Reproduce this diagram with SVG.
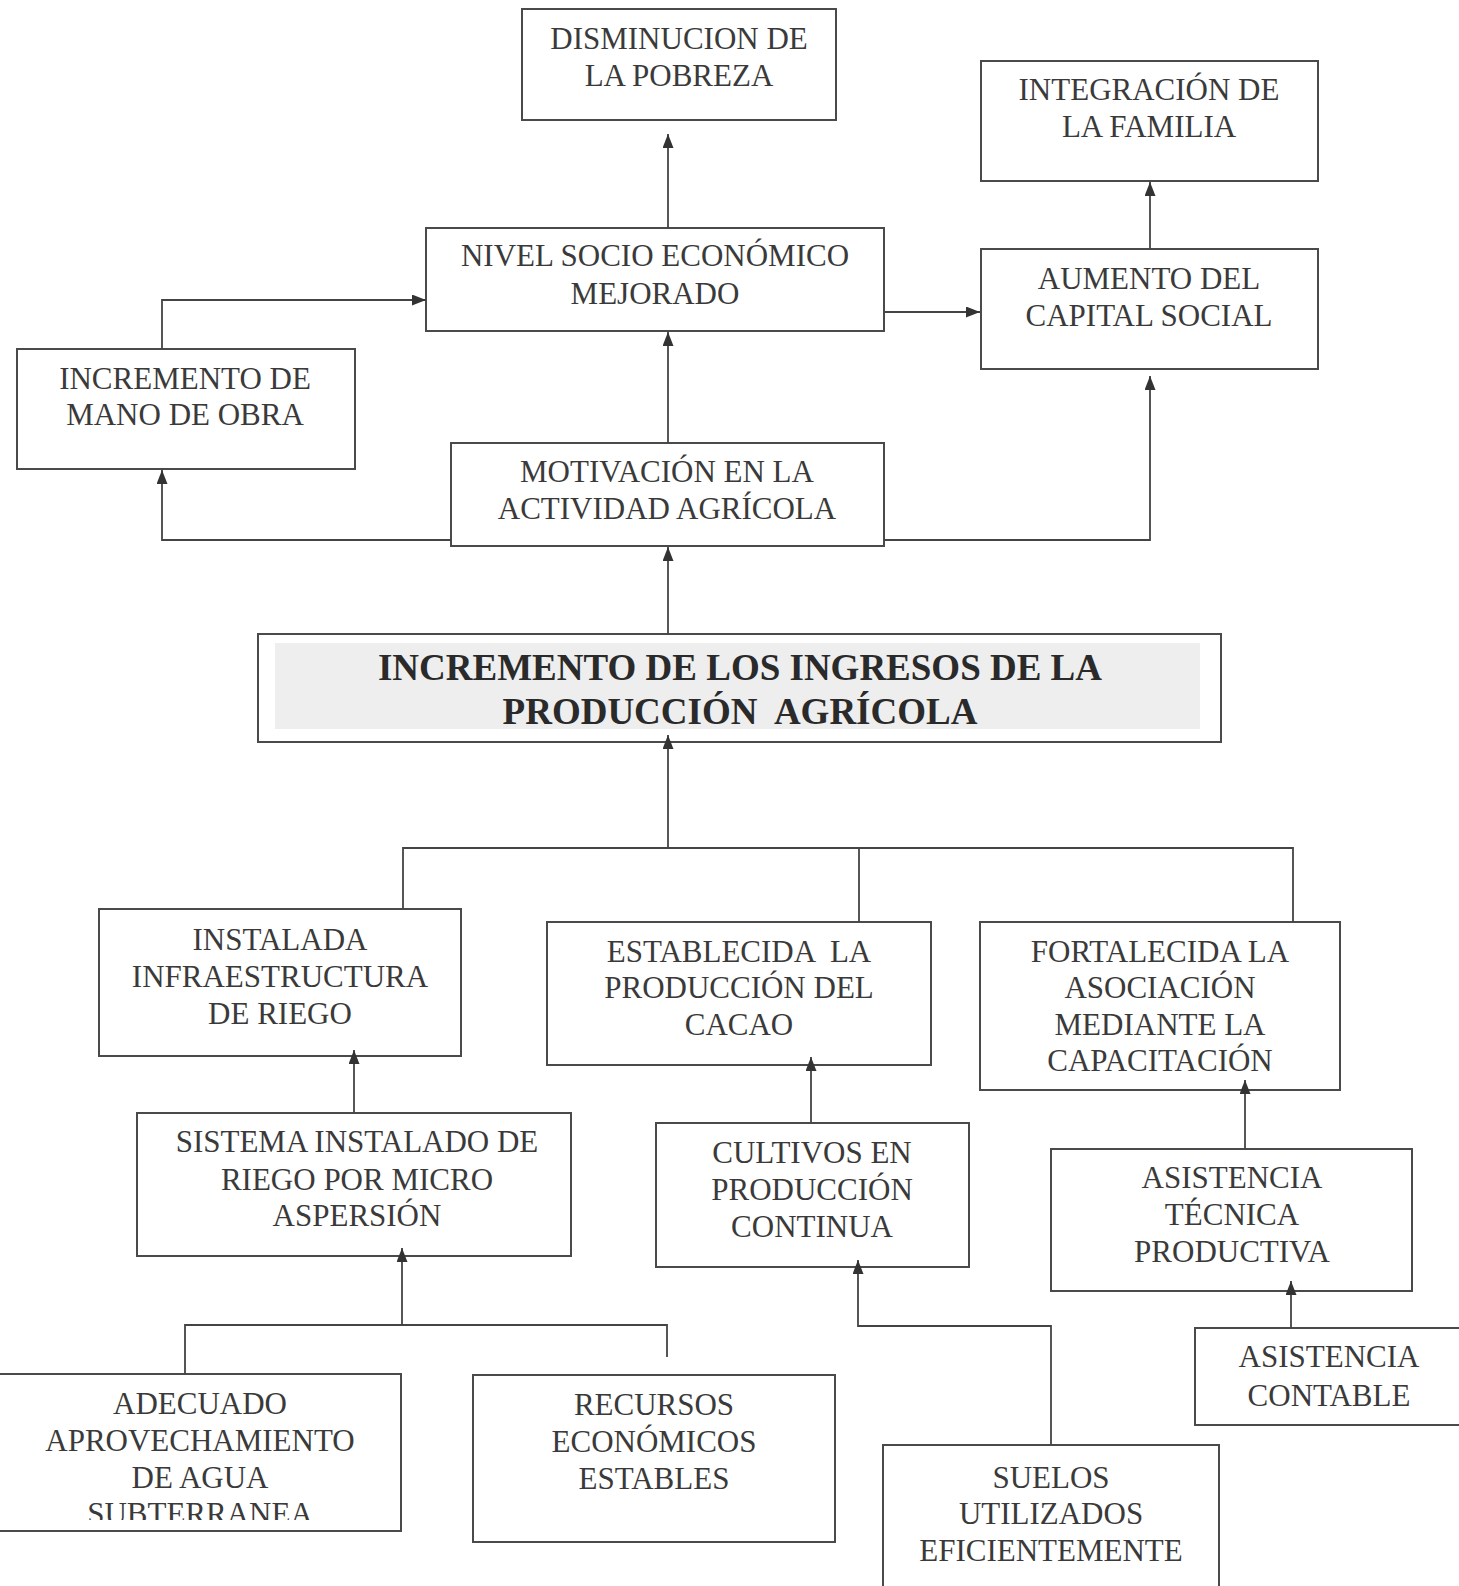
<svg xmlns="http://www.w3.org/2000/svg" width="1459" height="1586" viewBox="0 0 1459 1586">
<style>
.box{fill:#fff;stroke:#4a4a4a;stroke-width:2}
.t{font-family:"Liberation Serif","Times New Roman",serif;font-size:31px;fill:#3a3a3a;text-anchor:middle}
.tb{font-family:"Liberation Serif","Times New Roman",serif;font-size:37px;font-weight:bold;fill:#2a2a2a;text-anchor:middle}
.c{fill:none;stroke:#444;stroke-width:1.8}
</style>
<defs>
<marker id="ah" markerUnits="userSpaceOnUse" markerWidth="16" markerHeight="12" refX="14" refY="5.5" orient="auto">
<path d="M0,0 L14,5.5 L0,11 z" fill="#333"/>
</marker>
<clipPath id="clipAd"><rect x="-5" y="1370" width="410" height="150"/></clipPath>
</defs>
<rect width="1459" height="1586" fill="#fff"/>

<g id="n-disminucion">
<rect class="box" x="522" y="9" width="314" height="111"/>
<text class="t" x="679" y="49">DISMINUCION DE</text>
<text class="t" x="679" y="86">LA POBREZA</text>
</g>
<g id="n-integracion">
<rect class="box" x="981" y="61" width="337" height="120"/>
<text class="t" x="1149" y="100">INTEGRACIÓN DE</text>
<text class="t" x="1149" y="137">LA FAMILIA</text>
</g>
<g id="n-nivel">
<rect class="box" x="426" y="228" width="458" height="103"/>
<text class="t" x="655" y="266">NIVEL SOCIO ECONÓMICO</text>
<text class="t" x="655" y="304">MEJORADO</text>
</g>
<g id="n-aumento">
<rect class="box" x="981" y="249" width="337" height="120"/>
<text class="t" x="1149" y="289">AUMENTO DEL</text>
<text class="t" x="1149" y="326">CAPITAL SOCIAL</text>
</g>
<g id="n-mano">
<rect class="box" x="17" y="349" width="338" height="120"/>
<text class="t" x="185" y="389">INCREMENTO DE</text>
<text class="t" x="185" y="425">MANO DE OBRA</text>
</g>
<g id="n-motivacion">
<rect class="box" x="451" y="443" width="433" height="103"/>
<text class="t" x="667" y="482">MOTIVACIÓN EN LA</text>
<text class="t" x="667" y="519">ACTIVIDAD AGRÍCOLA</text>
</g>
<g id="n-incremento">
<rect class="box" x="258" y="634" width="963" height="108"/>
<rect x="275" y="643" width="925" height="86" fill="#eeeeee"/>
<text class="tb" x="740" y="680">INCREMENTO DE LOS INGRESOS DE LA</text>
<text class="tb" x="740" y="724" xml:space="preserve">PRODUCCIÓN  AGRÍCOLA</text>
</g>
<g id="n-instalada">
<rect class="box" x="99" y="909" width="362" height="147"/>
<text class="t" x="280" y="950">INSTALADA</text>
<text class="t" x="280" y="987">INFRAESTRUCTURA</text>
<text class="t" x="280" y="1024">DE RIEGO</text>
</g>
<g id="n-establecida">
<rect class="box" x="547" y="922" width="384" height="143"/>
<text class="t" x="739" y="962" xml:space="preserve">ESTABLECIDA  LA</text>
<text class="t" x="739" y="998">PRODUCCIÓN DEL</text>
<text class="t" x="739" y="1035">CACAO</text>
</g>
<g id="n-fortalecida">
<rect class="box" x="980" y="922" width="360" height="168"/>
<text class="t" x="1160" y="962">FORTALECIDA LA</text>
<text class="t" x="1160" y="998">ASOCIACIÓN</text>
<text class="t" x="1160" y="1035">MEDIANTE LA</text>
<text class="t" x="1160" y="1071">CAPACITACIÓN</text>
</g>
<g id="n-sistema">
<rect class="box" x="137" y="1113" width="434" height="143"/>
<text class="t" x="357" y="1152">SISTEMA INSTALADO DE</text>
<text class="t" x="357" y="1190">RIEGO POR MICRO</text>
<text class="t" x="357" y="1226">ASPERSIÓN</text>
</g>
<g id="n-cultivos">
<rect class="box" x="656" y="1123" width="313" height="144"/>
<text class="t" x="812" y="1163">CULTIVOS EN</text>
<text class="t" x="812" y="1200">PRODUCCIÓN</text>
<text class="t" x="812" y="1237">CONTINUA</text>
</g>
<g id="n-tecnica">
<rect class="box" x="1051" y="1149" width="361" height="142"/>
<text class="t" x="1232" y="1188">ASISTENCIA</text>
<text class="t" x="1232" y="1225">TÉCNICA</text>
<text class="t" x="1232" y="1262">PRODUCTIVA</text>
</g>
<g id="n-contable">
<rect class="box" x="1195" y="1328" width="270" height="97"/>
<text class="t" x="1329" y="1367">ASISTENCIA</text>
<text class="t" x="1329" y="1406">CONTABLE</text>
</g>
<g id="n-adecuado">
<rect class="box" x="-3" y="1374" width="404" height="157"/>
<text class="t" x="200" y="1414">ADECUADO</text>
<text class="t" x="200" y="1451">APROVECHAMIENTO</text>
<text class="t" x="200" y="1488">DE AGUA</text>
<text class="t" x="200" y="1524" clip-path="url(#clipAd)">SUBTERRANEA</text>
</g>
<g id="n-recursos">
<rect class="box" x="473" y="1375" width="362" height="167"/>
<text class="t" x="654" y="1415">RECURSOS</text>
<text class="t" x="654" y="1452">ECONÓMICOS</text>
<text class="t" x="654" y="1489">ESTABLES</text>
</g>
<g id="n-suelos">
<rect class="box" x="883" y="1445" width="336" height="160"/>
<text class="t" x="1051" y="1488">SUELOS</text>
<text class="t" x="1051" y="1524">UTILIZADOS</text>
<text class="t" x="1051" y="1561">EFICIENTEMENTE</text>
</g>

<g id="connectors">
<path class="c" d="M668,228 V134" marker-end="url(#ah)"/>
<path class="c" d="M1150,249 V182" marker-end="url(#ah)"/>
<path class="c" d="M884,312 H980" marker-end="url(#ah)"/>
<path class="c" d="M162,349 V300 H426" marker-end="url(#ah)"/>
<path class="c" d="M668,443 V332" marker-end="url(#ah)"/>
<path class="c" d="M451,540 H162 V470" marker-end="url(#ah)"/>
<path class="c" d="M884,540 H1150 V376" marker-end="url(#ah)"/>
<path class="c" d="M668,634 V547" marker-end="url(#ah)"/>
<path class="c" d="M668,848 V735" marker-end="url(#ah)"/>
<path class="c" d="M403,909 V848 H1293 V922"/>
<path class="c" d="M859,848 V922"/>
<path class="c" d="M354,1113 V1050" marker-end="url(#ah)"/>
<path class="c" d="M402,1325 V1248" marker-end="url(#ah)"/>
<path class="c" d="M185,1374 V1325 H667 V1357"/>
<path class="c" d="M811,1123 V1057" marker-end="url(#ah)"/>
<path class="c" d="M1051,1445 V1326 H858 V1260" marker-end="url(#ah)"/>
<path class="c" d="M1245,1149 V1080" marker-end="url(#ah)"/>
<path class="c" d="M1291,1328 V1281" marker-end="url(#ah)"/>
</g>
</svg>
